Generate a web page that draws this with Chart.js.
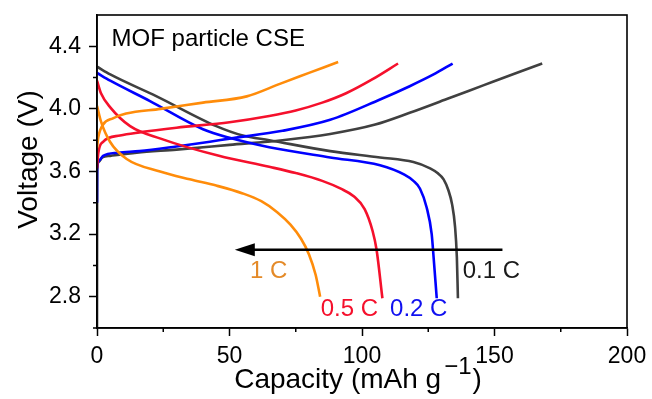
<!DOCTYPE html>
<html>
<head>
<meta charset="utf-8">
<script src="https://cdn.jsdelivr.net/npm/chart.js@4.4.1/dist/chart.umd.min.js"></script>
<style>
html,body{margin:0;padding:0;background:#fff;}
#wrap{width:652px;height:399px;position:relative;}
</style>
</head>
<body>
<div id="wrap"><canvas id="c" width="652" height="399"></canvas></div>
<script>
// ---- data (capacity in mAh/g, voltage in V) ----
const cap01C_chg = [0, 0.05, 0.6, 2, 5, 15, 30, 50, 70, 88, 105, 118, 132, 146, 158, 168];
const v01C_chg   = [2.6, 3.60, 3.66, 3.69, 3.70, 3.72, 3.74, 3.77, 3.80, 3.84, 3.90, 3.975, 4.063, 4.152, 4.228, 4.29];
const cap01C_dis = [0, 5, 22.5, 45, 55, 65, 88, 106.8, 119.4, 125.7, 128.5, 130.8, 132.6, 134, 135.1, 135.8, 136.2];
const v01C_dis   = [4.27, 4.22, 4.08, 3.89, 3.83, 3.80, 3.73, 3.69, 3.66, 3.62, 3.59, 3.55, 3.48, 3.39, 3.25, 3.05, 2.79];

const cap02C_chg = [0, 0.05, 0.8, 2.3, 8, 16, 30, 42.6, 50, 70, 88, 106.8, 118, 127, 134.2];
const v02C_chg   = [3.40, 3.62, 3.67, 3.70, 3.72, 3.73, 3.76, 3.79, 3.81, 3.86, 3.93, 4.06, 4.145, 4.22, 4.29];
const cap02C_dis = [0, 5, 20, 40, 50, 65, 88, 106.8, 116, 119.4, 121.9, 124.4, 126.3, 126.8, 128.2];
const v02C_dis   = [4.23, 4.18, 4.05, 3.87, 3.815, 3.755, 3.69, 3.64, 3.58, 3.54, 3.49, 3.37, 3.20, 3.10, 2.79];

const cap05C_chg = [0, 0.5, 2.3, 8.7, 16, 30, 50, 65, 75, 85, 94, 104, 113.6];
const v05C_chg   = [3.62, 3.72, 3.79, 3.83, 3.85, 3.88, 3.915, 3.955, 3.99, 4.04, 4.10, 4.19, 4.29];
const cap05C_dis = [0, 1.5, 5, 12.5, 24, 46, 65, 75, 85, 92, 97, 101, 104, 105.5, 107.7];
const v05C_dis   = [4.18, 4.10, 4.01, 3.89, 3.81, 3.70, 3.63, 3.59, 3.54, 3.49, 3.44, 3.36, 3.22, 3.10, 2.79];

const cap1C_chg = [0, 0.5, 2.3, 6, 11, 24, 40, 56.5, 69, 80, 91];
const v1C_chg   = [3.75, 3.82, 3.90, 3.94, 3.97, 4.00, 4.04, 4.08, 4.16, 4.23, 4.30];
const cap1C_dis = [0, 1.5, 4.9, 11.2, 23.8, 35, 45, 55, 62, 68, 73, 77, 80, 82.5, 84.2];
const v1C_dis   = [4.02, 3.92, 3.79, 3.68, 3.60, 3.55, 3.51, 3.46, 3.41, 3.34, 3.26, 3.17, 3.07, 2.94, 2.80];

const xTicks = [0, 50, 100, 150, 200];
const yTicks = [2.8, 3.2, 3.6, 4.0, 4.4];
const xMinor = [25, 75, 125, 175];
const yMinor = [2.6, 3.0, 3.4, 3.8, 4.2];

const rateLabels = ['0.1 C', '0.2 C', '0.5 C', '1 C'];
const labelCap   = [138, 110.6, 84.4, 57.7];
const labelVolt  = [2.96, 2.72, 2.72, 2.96];

const arrowCap  = [153, 52];
const arrowVolt = 3.10;
const panelTitle = 'MOF particle CSE';

// ---- styles ----
const FONT = '"Liberation Sans", Arial, Helvetica, sans-serif';
const cGray = '#404040', cBlue = '#0000ff', cRed = '#f5102c', cOrange = '#ff8c0a';
const labelColors = ['#1a1a1a', '#1010f0', '#f5102c', '#e48a28'];

function pts(xs, ys){ return xs.map((x,i)=>({x:x, y:ys[i]})); }
function ds(xs, ys, color){
  return {data: pts(xs, ys), borderColor: color, borderWidth: 2.6, pointRadius: 0,
          cubicInterpolationMode: 'monotone', fill: false};
}

const decor = {
  id: 'decor',
  afterDatasetsDraw(chart){
    const ctx = chart.ctx, a = chart.chartArea, xs = chart.scales.x, ys = chart.scales.y;
    ctx.save();
    // frame
    ctx.strokeStyle = '#000'; ctx.lineWidth = 1.6;
    ctx.strokeRect(a.left, a.top, a.right - a.left, a.bottom - a.top);
    // minor ticks
    ctx.lineWidth = 1.5;
    ctx.beginPath();
    yMinor.forEach(v => { const y = ys.getPixelForValue(v); ctx.moveTo(a.left, y); ctx.lineTo(a.left - 4, y); });
    xMinor.forEach(v => { const x = xs.getPixelForValue(v); ctx.moveTo(x, a.bottom); ctx.lineTo(x, a.bottom + 4); });
    ctx.stroke();
    // arrow
    const x0 = xs.getPixelForValue(arrowCap[0]), x1 = xs.getPixelForValue(arrowCap[1]), y = ys.getPixelForValue(arrowVolt);
    ctx.strokeStyle = '#000'; ctx.fillStyle = '#000'; ctx.lineWidth = 2.6;
    ctx.beginPath(); ctx.moveTo(x0, y); ctx.lineTo(x1 + 14, y); ctx.stroke();
    ctx.beginPath(); ctx.moveTo(x1, y); ctx.lineTo(x1 + 20, y - 6.5); ctx.lineTo(x1 + 20, y + 6.5); ctx.closePath(); ctx.fill();
    // rate labels
    ctx.font = '24px ' + FONT; ctx.textAlign = 'left'; ctx.textBaseline = 'middle';
    rateLabels.forEach((t,i) => {
      ctx.fillStyle = labelColors[i];
      ctx.fillText(t, xs.getPixelForValue(labelCap[i]), ys.getPixelForValue(labelVolt[i]));
    });
    // panel title
    ctx.fillStyle = '#000'; ctx.font = '24px ' + FONT;
    ctx.fillText(panelTitle, xs.getPixelForValue(5.5), ys.getPixelForValue(4.447));
    // axis titles
    ctx.font = '28px ' + FONT; ctx.textBaseline = 'alphabetic';
    const p1 = 'Capacity (mAh g', sup = '\u22121', p2 = ')';
    const w1 = ctx.measureText(p1).width, w3 = ctx.measureText(p2).width;
    ctx.font = '24px ' + FONT; const w2 = ctx.measureText(sup).width;
    const total = w1 + 3 + w2 + 1 + w3;
    let sx = (a.left + a.right) / 2 - 4 - total / 2;
    const base = 388;
    ctx.font = '28px ' + FONT; ctx.fillText(p1, sx, base); sx += w1 + 3;
    ctx.font = '24px ' + FONT; ctx.fillText(sup, sx, base - 14); sx += w2 + 1;
    ctx.font = '28px ' + FONT; ctx.fillText(p2, sx, base);
    ctx.translate(29, (a.top + a.bottom) / 2 - 12);
    ctx.rotate(-Math.PI / 2);
    ctx.textAlign = 'center'; ctx.textBaseline = 'middle';
    ctx.fillText('Voltage (V)', 0, 0);
    ctx.restore();
  }
};

new Chart(document.getElementById('c'), {
  type: 'line',
  data: {
    datasets: [
      ds(cap1C_chg, v1C_chg, cOrange),
      ds(cap1C_dis, v1C_dis, cOrange),
      ds(cap05C_chg, v05C_chg, cRed),
      ds(cap05C_dis, v05C_dis, cRed),
      ds(cap02C_chg, v02C_chg, cBlue),
      ds(cap02C_dis, v02C_dis, cBlue),
      ds(cap01C_chg, v01C_chg, cGray),
      ds(cap01C_dis, v01C_dis, cGray)
    ]
  },
  options: {
    responsive: false,
    animation: false,
    layout: {padding: {left: 0, right: 25, top: 15, bottom: 0}},
    plugins: {legend: {display: false}, tooltip: {enabled: false}},
    scales: {
      x: {
        type: 'linear', min: 0, max: 200,
        afterBuildTicks: s => { s.ticks = xTicks.map(v => ({value: v})); },
        afterFit: s => { s.height = 71; s.paddingLeft = 0; s.paddingRight = 0; },
        ticks: {font: {family: FONT, size: 23}, color: '#000', padding: 7, maxRotation: 0, autoSkip: false,
                callback: v => String(v)},
        grid: {drawOnChartArea: false, drawTicks: true, tickLength: 8, tickColor: '#000', tickWidth: 1.5},
        border: {display: true, color: '#000', width: 1.6}
      },
      y: {
        type: 'linear', min: 2.6, max: 4.6,
        afterBuildTicks: s => { s.ticks = yTicks.map(v => ({value: v})); },
        afterFit: s => { s.width = 97; s.paddingTop = 0; s.paddingBottom = 0; },
        ticks: {font: {family: FONT, size: 23}, color: '#000', padding: 8, autoSkip: false,
                callback: v => Number(v).toFixed(1)},
        grid: {drawOnChartArea: false, drawTicks: true, tickLength: 8, tickColor: '#000', tickWidth: 1.5},
        border: {display: true, color: '#000', width: 1.6}
      }
    }
  },
  plugins: [decor]
});
</script>
</body>
</html>
